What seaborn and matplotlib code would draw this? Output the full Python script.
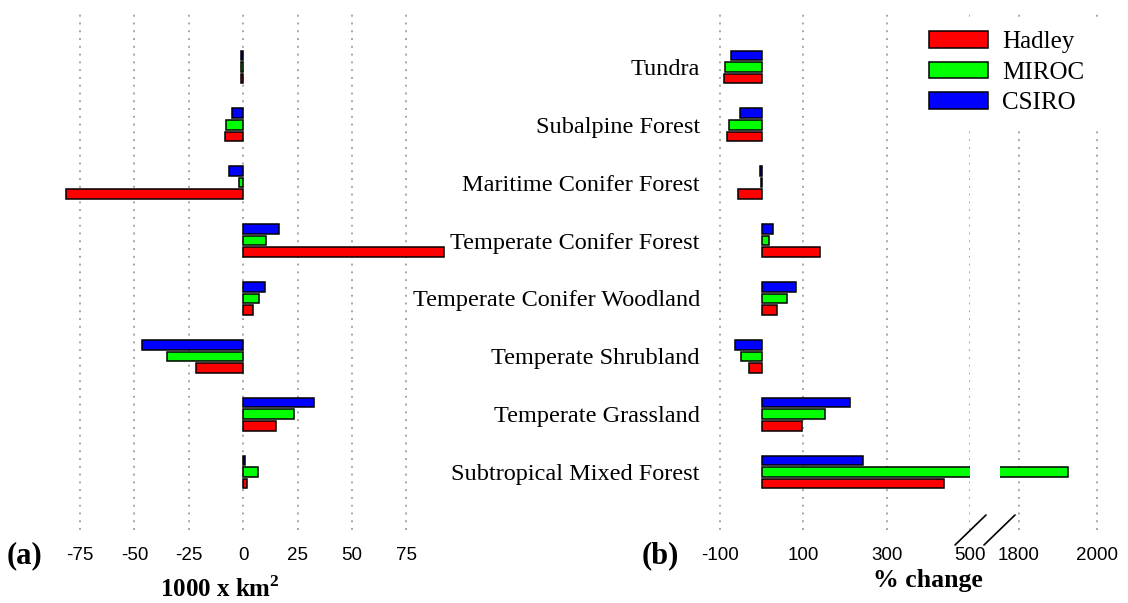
import matplotlib
matplotlib.use("Agg")
import matplotlib.pyplot as plt
from matplotlib.patches import Patch
from matplotlib.lines import Line2D
import pandas as pd
import seaborn as sns

# ---- data -------------------------------------------------------------
biomes = [
    "Tundra",
    "Subalpine Forest",
    "Maritime Conifer Forest",
    "Temperate Conifer Forest",
    "Temperate Conifer Woodland",
    "Temperate Shrubland",
    "Temperate Grassland",
    "Subtropical Mixed Forest",
]
models = ["Hadley", "MIROC", "CSIRO"]

# change in area (1000 x km^2)
area_hadley = [-1.2, -8.3, -81.5, 92.4, 4.3, -21.6, 14.9, 1.5]
area_miroc = [-1.0, -7.9, -1.8, 10.4, 7.4, -35.1, 23.4, 6.6]
area_csiro = [-0.9, -5.2, -6.7, 16.2, 10.0, -46.7, 32.6, 0.9]

# change in area (%)
pct_hadley = [-90, -83, -57, 140, 37, -30, 96, 437]
pct_miroc = [-87, -78, -1, 17, 61, -49, 152, 1925]
pct_csiro = [-74, -53, -4, 26, 83, -65, 212, 244]

area_ticks = [-75, -50, -25, 0, 25, 50, 75]
pct_ticks_low = [-100, 100, 300, 500]
pct_ticks_high = [1800, 2000]

# ---- styling ----------------------------------------------------------
colors = {"Hadley": "#ff0000", "MIROC": "#00ff00", "CSIRO": "#0000ff"}
sns.set_theme(style="white")
plt.rcParams["font.family"] = ["Liberation Sans", "DejaVu Sans"]
plt.rcParams["text.color"] = "black"
plt.rcParams["xtick.color"] = "black"
plt.rcParams["ytick.color"] = "black"
plt.rcParams["axes.labelcolor"] = "black"
plt.rcParams["mathtext.fontset"] = "custom"
plt.rcParams["mathtext.rm"] = "Liberation Serif"
plt.rcParams["mathtext.bf"] = "Liberation Serif:bold"
SERIF = ["Liberation Serif", "DejaVu Serif"]

W, H = 1128, 603
fig = plt.figure(figsize=(W / 100, H / 100), dpi=100)


def long_frame(h, m, c):
    return pd.DataFrame({
        "biome": biomes * 3,
        "model": ["Hadley"] * len(biomes) + ["MIROC"] * len(biomes) + ["CSIRO"] * len(biomes),
        "value": list(h) + list(m) + list(c),
    })


df_area = long_frame(area_hadley, area_miroc, area_csiro)
df_pct = long_frame(pct_hadley, pct_miroc, pct_csiro)


def px_axes(left, right, top=9, bottom=530):
    return fig.add_axes([left / W, 1 - bottom / H, (right - left) / W, (bottom - top) / H])


def draw_bars(ax, df, xlim, ticks):
    sns.barplot(
        data=df, x="value", y="biome", hue="model", order=biomes,
        hue_order=["CSIRO", "MIROC", "Hadley"], palette=colors, orient="h",
        width=0.6, gap=0.18, saturation=1, edgecolor="black", linewidth=1.1,
        errorbar=None, legend=False, ax=ax,
    )
    ax.set_xlim(*xlim)
    ax.set_ylim(8.0, -1.0)
    ax.set_xticks(ticks)
    ax.set_xticklabels([str(t) for t in ticks])
    ax.set_axisbelow(True)
    ax.grid(axis="x", linestyle=(0, (1, 3.0)), color="#a8a89e", linewidth=1.4)
    ax.grid(axis="y", visible=False)
    for s in ax.spines.values():
        s.set_visible(False)
    ax.tick_params(axis="x", length=0, pad=12, labelsize=13.5, labelcolor="black")
    ax.set_xlabel("")
    ax.set_ylabel("")


# (a) absolute change
ax_a = px_axes(50, 450)
draw_bars(ax_a, df_area, (-88.8, 95.0), area_ticks)
ax_a.set_yticks([])

# (b) relative change, broken x axis
ax_b1 = px_axes(715.9, 970)
draw_bars(ax_b1, df_pct, (-110, 500), pct_ticks_low)
ax_b1.set_yticks(range(len(biomes)))
ax_b1.set_yticklabels(biomes, fontfamily=SERIF, fontsize=17.5, color="black")
ax_b1.tick_params(axis="y", length=0, pad=11.5)

ax_b2 = px_axes(999.5, 1100.9)
draw_bars(ax_b2, df_pct, (1750, 2010), pct_ticks_high)
ax_b2.set_yticks([])

# axis-break marks
for x0 in (955, 984):
    fig.add_artist(Line2D([x0 / W, (x0 + 31) / W], [1 - 545 / H, 1 - 515 / H],
                          color="black", lw=1.2, transform=fig.transFigure))

# panel letters and axis titles
fig.text(25 / W, 1 - 556 / H, "(a)", ha="center", va="center",
         fontfamily=SERIF, fontweight="bold", fontsize=22)
fig.text(660 / W, 1 - 556 / H, "(b)", ha="center", va="center",
         fontfamily=SERIF, fontweight="bold", fontsize=22)
fig.text(220 / W, 1 - 597 / H, r"1000 x km$^{\mathbf{2}}$", ha="center", va="baseline",
         fontfamily=SERIF, fontweight="bold", fontsize=18)
fig.text(928 / W, 1 - 587 / H, "% change", ha="center", va="baseline",
         fontfamily=SERIF, fontweight="bold", fontsize=18.5)

# legend
handles = [Patch(facecolor=colors[m], edgecolor="black", linewidth=1.1, label=m) for m in models]
fig.legend(
    handles=handles, loc="upper left", bbox_to_anchor=(916 / W, 1 - 18 / H),
    prop={"family": SERIF, "size": 18}, frameon=True, facecolor="white",
    edgecolor="none", framealpha=1, fancybox=False, borderpad=0.53,
    handlelength=2.36, handleheight=0.64, handletextpad=0.56, labelspacing=0.34,
    borderaxespad=0,
)

fig.savefig("out.png", dpi=100, facecolor="white")
